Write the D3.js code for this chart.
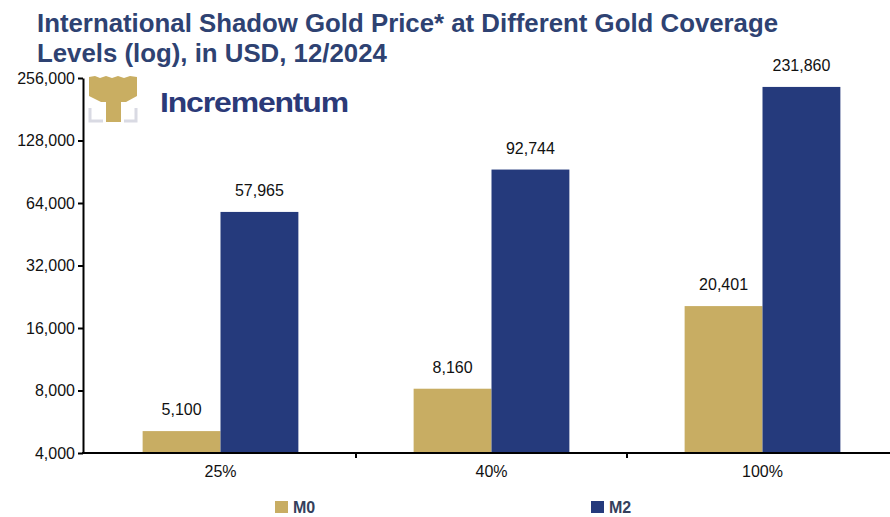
<!DOCTYPE html>
<html lang="en">
<head>
<meta charset="UTF-8">
<title>International Shadow Gold Price</title>
<script src="https://d3js.org/d3.v7.min.js"></script>
<style>
  body { margin: 0; padding: 0; background: #fff; font-family: Arial, "Liberation Sans", sans-serif; }
  svg text { font-family: Arial, "Liberation Sans", sans-serif; }
</style>
</head>
<body>
<svg width="890" height="517"></svg>
<script>
// data
const categories = ["25%", "40%", "100%"];
const seriesNames = ["M0", "M2"];
const m0Values = [5100, 8160, 20401];
const m2Values = [57965, 92744, 231860];
const yTicks = [4000, 8000, 16000, 32000, 64000, 128000, 256000];

const gold = "#C8AD63";
const navy = "#253A7C";
const titleColor = "#2E4272";

const svg = d3.select("svg");

const x0 = 83, x1 = 898, yBottom = 453, yTop = 78;

const x = d3.scaleBand().domain(categories).range([x0 + 2, x1]).paddingInner(0).paddingOuter(0);
const xSub = d3.scaleBand().domain(seriesNames).range([0, x.bandwidth()]).paddingInner(0).paddingOuter(0.74);
const y = d3.scaleLog().base(2).domain([4000, 256000]).range([yBottom, yTop]);
const fmt = d3.format(",");

// title
const title = svg.append("text").attr("fill", titleColor)
  .style("font-weight", "bold").style("font-size", "25.8px");
title.append("tspan").attr("x", 37).attr("y", 32).text("International Shadow Gold Price* at Different Gold Coverage");
title.append("tspan").attr("x", 37).attr("y", 62).text("Levels (log), in USD, 12/2024");

// logo (tree mark + wordmark)
const logo = svg.append("g");
logo.append("path")
  .attr("d", "M89,77 L95,76 L100,78 L106,76 L112,78 L118,76 L124,78 L130,76 L137,77 L137,96 L126,102 L121,102 L121,122 L106,122 L106,102 L101,102 L89,96 Z")
  .attr("fill", "#C9AE62");
logo.append("path").attr("d", "M90,108 V121 H103 M136,108 V121 H124")
  .attr("fill", "none").attr("stroke", "#D9DAE3").attr("stroke-width", 3);
logo.append("text").attr("x", 160).attr("y", 112).attr("fill", "#2B3A78")
  .attr("textLength", 188).attr("lengthAdjust", "spacingAndGlyphs")
  .style("font-weight", "900").style("font-size", "28px").style("letter-spacing", "-1px")
  .text("Incrementum");

// bars
const rows = categories.map((c, i) => ({ cat: c, vals: [m0Values[i], m2Values[i]] }));
const colors = { M0: gold, M2: navy };

const groups = svg.append("g").selectAll("g").data(rows).join("g")
  .attr("transform", d => `translate(${x(d.cat)},0)`);

groups.selectAll("rect").data(d => seriesNames.map((s, j) => ({ s, v: d.vals[j] })))
  .join("rect")
  .attr("x", d => xSub(d.s))
  .attr("width", xSub.bandwidth())
  .attr("y", d => y(d.v))
  .attr("height", d => yBottom - y(d.v))
  .attr("fill", d => colors[d.s]);

groups.selectAll("text.val").data(d => seriesNames.map((s, j) => ({ s, v: d.vals[j] })))
  .join("text").attr("class", "val")
  .attr("x", d => xSub(d.s) + xSub.bandwidth() / 2)
  .attr("y", d => y(d.v) - 16)
  .attr("text-anchor", "middle")
  .style("font-size", "16px").attr("fill", "#111")
  .text(d => fmt(d.v));

// y axis
const yAxis = svg.append("g").attr("transform", `translate(${x0},0)`)
  .call(d3.axisLeft(y).tickValues(yTicks).tickFormat(fmt).tickSize(5).tickSizeOuter(0));
yAxis.select(".domain").attr("stroke", "#000").attr("stroke-width", 2);
yAxis.selectAll(".tick line").attr("stroke", "#000").attr("stroke-width", 2);
yAxis.selectAll(".tick text").style("font-size", "16px").attr("fill", "#111").attr("x", -8);

// x axis
svg.append("line").attr("x1", x0 - 1).attr("x2", 890).attr("y1", yBottom).attr("y2", yBottom)
  .attr("stroke", "#000").attr("stroke-width", 2);
svg.append("g").selectAll("line").data(categories.slice(1)).join("line")
  .attr("x1", d => x(d)).attr("x2", d => x(d))
  .attr("y1", yBottom).attr("y2", yBottom + 5)
  .attr("stroke", "#000").attr("stroke-width", 2);
svg.append("g").selectAll("text").data(categories).join("text")
  .attr("x", d => x(d) + x.bandwidth() / 2)
  .attr("y", 477)
  .attr("text-anchor", "middle")
  .style("font-size", "16px").attr("fill", "#111")
  .text(d => d);

// legend
const legendX = [275, 591];
const legend = svg.append("g").selectAll("g").data(seriesNames).join("g")
  .attr("transform", (d, i) => `translate(${legendX[i]},501)`);
legend.append("rect").attr("width", 13).attr("height", 12).attr("fill", d => colors[d]);
legend.append("text").attr("x", 18).attr("y", 12)
  .style("font-size", "16px").style("font-weight", "bold").attr("fill", "#34405C")
  .text(d => d);
</script>
</body>
</html>
